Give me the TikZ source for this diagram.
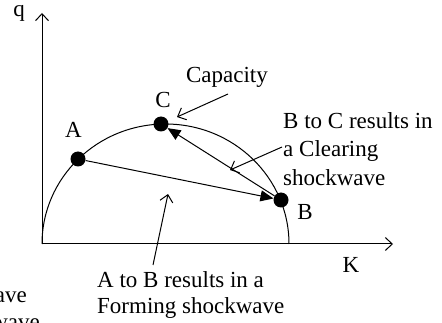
\documentclass[tikz,border=0pt]{standalone}
\usepackage{fontspec}
\setmainfont{Liberation Serif}
\usetikzlibrary{arrows.meta}
\begin{document}
\begin{tikzpicture}[x=1pt,y=-1pt,
  lbl/.style={inner sep=0pt, font=\fontsize{23}{28}\selectfont},
  txtbc/.style={inner sep=0pt, align=left, font=\fontsize{23}{28.5}\selectfont},
  txtab/.style={inner sep=0pt, align=left, font=\fontsize{23}{26.7}\selectfont},
  dot/.style={circle, fill=black, minimum size=15pt, inner sep=0pt},
  ln/.style={line width=1pt},
  openarrow/.style={ln, -{Straight Barb[length=7pt,width=13pt]}},
  fillarrow/.style={ln, -{Triangle[length=13pt,width=11pt]}}
]
\clip (0,0) rectangle (442,323);
% axes
\coordinate (O) at (42,244);
\coordinate (ytop) at (42,13);
\coordinate (xend) at (393,244);
\draw[openarrow] (O) -- (ytop);
\draw[openarrow] (O) -- (xend);
\node[lbl, anchor=base] (qlab) at (19,17) {q};
\node[lbl] (klab) at (351,265) {K};
% curve
\draw[ln] (O) arc[start angle=180, end angle=360, x radius=123.5, y radius=120];
% points
\node[dot] (A) at (78,159) {};
\node[dot] (C) at (161,124) {};
\node[dot] (B) at (281,200) {};
\node[lbl] (labA) at (73.5,130) {A};
\node[lbl] (labC) at (163,100) {C};
\node[lbl] (labB) at (305,212) {B};
% shock lines
\draw[fillarrow] (A) -- (B);
\draw[fillarrow] (B) -- (C);
% capacity
\node[lbl, anchor=base] (cap) at (227,83) {Capacity};
\coordinate (capS) at (228,94);
\coordinate (capT) at (177,117);
\draw[openarrow] (capS) -- (capT);
% B to C text
\node[txtbc, anchor=north west] (bctext) at (283,112) {B to C results in\\a Clearing\\shockwave};
\coordinate (clS) at (282,147);
\coordinate (clT) at (230,170);
\draw[openarrow] (clS) -- (clT);
% A to B text
\node[txtab, anchor=north west] (abtext) at (97,271) {A to B results in a\\Forming shockwave};
\coordinate (fmS) at (153,265);
\coordinate (fmT) at (168,194);
\draw[openarrow] (fmS) -- (fmT);
% cropped fragments at the lower left
\node[lbl, anchor=base east] (frag1) at (27,302) {ave};
\node[lbl, anchor=base east] (frag2) at (40,330) {wave};
\end{tikzpicture}
\end{document}
